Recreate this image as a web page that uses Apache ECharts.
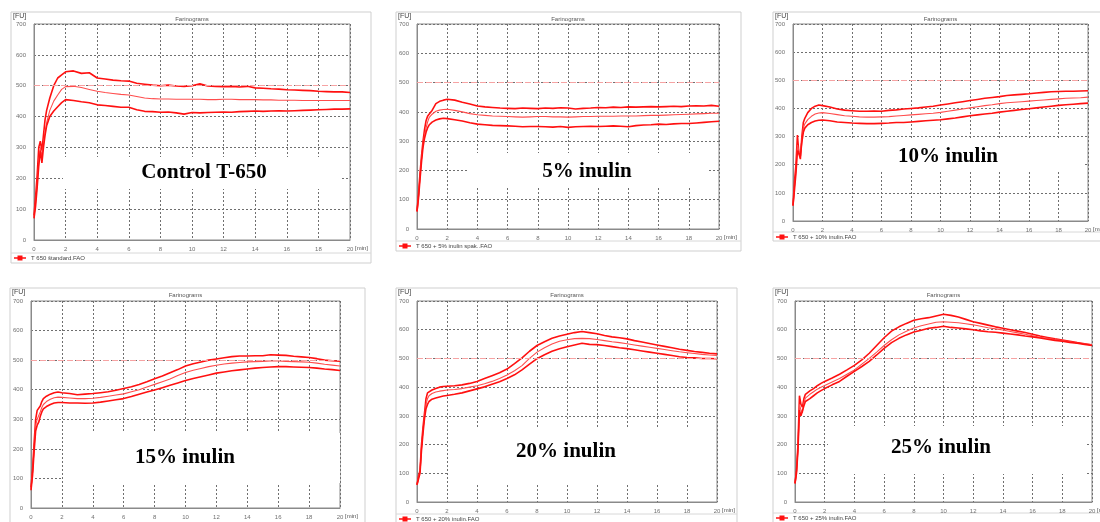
<!DOCTYPE html>
<html>
<head>
<meta charset="utf-8">
<style>
  html, body { margin: 0; padding: 0; background: #fff; }
  #chart { width: 1100px; height: 522px; }
</style>
<script src="https://cdn.jsdelivr.net/npm/echarts@6/dist/echarts.min.js"></script>
</head>
<body>
<div id="chart"></div>
<script>
// time axis shared by all curves [min]
const T = [0, 0.1, 0.2, 0.3, 0.4, 0.5, 0.6, 0.7, 0.8, 1, 1.25, 1.5, 1.75, 2, 2.5, 3, 3.5, 4, 4.5, 5,
  5.5, 6, 6.5, 7, 7.5, 8, 8.5, 9, 9.5, 10, 10.5, 11, 11.5, 12, 12.5, 13, 13.5, 14, 14.5, 15,
  15.5, 16, 16.5, 17, 17.5, 18, 18.5, 19, 19.5, 20]

// Control T-650 [FU]
const ctrlUp = [80, 140, 210, 300, 320, 290, 340, 390, 420, 460, 500, 525, 535, 545, 548, 540, 542, 525, 522, 518,
  516, 515, 508, 505, 502, 500, 502, 499, 498, 500, 506, 499, 498, 497, 498, 496, 498, 493, 492, 490,
  489, 487, 486, 485, 484, 482, 481, 480, 480, 478]
const ctrlMid = [75, 120, 180, 250, 300, 270, 310, 350, 380, 420, 450, 470, 488, 497, 498, 494, 488, 482, 478, 475,
  472, 470, 465, 460, 458, 457, 457, 456, 456, 456, 456, 455, 455, 456, 456, 455, 455, 455, 454, 454,
  453, 453, 453, 452, 452, 452, 452, 452, 452, 452]
const ctrlLow = [70, 110, 170, 240, 290, 250, 300, 340, 370, 400, 418, 432, 445, 455, 452, 448, 445, 438, 436, 433,
  430, 430, 422, 417, 416, 414, 415, 412, 408, 413, 412, 413, 414, 415, 414, 416, 417, 418, 417, 418,
  419, 418, 419, 420, 421, 422, 423, 424, 424, 425]

// 5% inulin
const in5Up = [60, 120, 190, 250, 300, 340, 370, 385, 392, 405, 428, 436, 440, 443, 440, 433, 427, 420, 417, 415,
  413, 412, 411, 413, 412, 411, 413, 412, 414, 413, 410, 412, 413, 415, 414, 416, 415, 417, 416, 417,
  418, 417, 418, 419, 418, 420, 421, 420, 422, 419]
const in5Mid = [60, 110, 180, 240, 290, 320, 345, 365, 380, 392, 402, 406, 408, 409, 405, 400, 394, 390, 388, 386,
  385, 384, 383, 382, 383, 384, 384, 383, 383, 382, 383, 384, 384, 385, 385, 385, 386, 386, 386, 387,
  388, 388, 389, 390, 391, 392, 393, 394, 395, 395]
const in5Low = [60, 105, 170, 230, 280, 310, 330, 345, 355, 365, 372, 376, 378, 377, 373, 369, 363, 358, 356, 354,
  353, 352, 351, 349, 350, 350, 349, 348, 350, 347, 349, 350, 351, 350, 351, 352, 351, 349, 353, 355,
  356, 358, 357, 359, 360, 360, 362, 364, 366, 368]

// 10% inulin
const in10Up = [55, 140, 200, 305, 240, 220, 300, 350, 365, 385, 400, 408, 412, 410, 405, 398, 394, 392, 390, 390,
  391, 390, 393, 395, 398, 400, 402, 405, 408, 412, 416, 420, 424, 428, 432, 436, 439, 442, 446, 448,
  450, 452, 455, 457, 459, 460, 461, 461, 462, 463]
const in10Mid = [55, 120, 180, 270, 250, 240, 290, 330, 345, 360, 372, 380, 384, 385, 382, 378, 374, 372, 370, 369,
  369, 370, 371, 373, 375, 377, 379, 381, 383, 386, 390, 394, 398, 402, 406, 410, 413, 417, 420, 422,
  424, 426, 428, 430, 432, 434, 436, 437, 438, 440]
const in10Low = [55, 110, 170, 250, 240, 230, 280, 315, 330, 342, 350, 355, 358, 359, 356, 352, 350, 348, 347, 346,
  346, 347, 348, 350, 350, 352, 354, 356, 358, 360, 363, 366, 370, 374, 377, 380, 383, 387, 390, 393,
  396, 399, 402, 405, 408, 411, 413, 415, 417, 419]

// 15% inulin
const in15Up = [70, 130, 220, 300, 330, 325, 345, 360, 370, 378, 385, 390, 392, 390, 387, 383, 385, 387, 390, 393,
  398, 404, 410, 418, 427, 437, 446, 457, 468, 480, 488, 494, 500, 504, 508, 512, 514, 514, 515, 515,
  518, 517, 516, 513, 511, 509, 505, 500, 498, 496]
const in15Mid = [65, 120, 200, 280, 300, 305, 325, 340, 350, 360, 368, 373, 375, 374, 372, 370, 370, 371, 374, 378,
  382, 386, 393, 400, 409, 418, 427, 436, 448, 458, 466, 472, 478, 483, 487, 490, 492, 494, 495, 496,
  497, 497, 496, 495, 494, 493, 490, 486, 483, 480]
const in15Low = [60, 110, 190, 260, 280, 290, 310, 325, 335, 343, 350, 355, 357, 357, 355, 355, 354, 355, 358, 362,
  366, 370, 377, 385, 392, 399, 407, 415, 423, 431, 438, 444, 450, 456, 460, 464, 467, 470, 473, 475,
  477, 478, 478, 477, 476, 475, 473, 470, 468, 465]

// 20% inulin
const in20Up = [60, 90, 110, 200, 260, 310, 360, 380, 385, 390, 395, 400, 402, 403, 405, 408, 413, 420, 430, 440,
  450, 463, 482, 502, 525, 545, 558, 570, 578, 584, 590, 594, 590, 586, 580, 575, 572, 568, 562, 557,
  552, 547, 542, 537, 532, 528, 524, 521, 518, 516]
const in20Mid = [60, 85, 105, 190, 250, 300, 340, 360, 370, 378, 383, 386, 388, 390, 392, 395, 400, 405, 412, 420,
  430, 442, 457, 475, 500, 522, 537, 550, 560, 565, 569, 570, 569, 566, 562, 558, 555, 551, 547, 543,
  539, 535, 531, 527, 523, 520, 517, 514, 512, 510]
const in20Low = [60, 80, 100, 180, 240, 290, 325, 340, 350, 358, 362, 366, 369, 371, 375, 380, 387, 394, 401, 410,
  419, 430, 443, 460, 480, 499, 513, 525, 534, 541, 547, 553, 549, 548, 545, 541, 537, 534, 530, 526,
  522, 518, 514, 510, 506, 503, 502, 500, 500, 499]

// 25% inulin
const in25Up = [65, 110, 200, 370, 340, 330, 360, 375, 380, 387, 395, 405, 413, 420, 432, 445, 460, 476, 495, 518,
  545, 572, 595, 610, 622, 633, 638, 642, 648, 654, 650, 644, 636, 628, 622, 616, 610, 605, 600, 595,
  590, 584, 578, 573, 568, 564, 560, 555, 551, 547]
const in25Mid = [65, 105, 190, 340, 320, 310, 345, 362, 368, 375, 384, 393, 400, 406, 418, 430, 445, 460, 480, 500,
  522, 545, 565, 582, 595, 606, 614, 620, 626, 628, 626, 624, 621, 617, 612, 607, 603, 599, 594, 589,
  584, 579, 574, 570, 566, 562, 558, 554, 551, 548]
const in25Low = [65, 100, 180, 320, 300, 300, 335, 350, 355, 360, 370, 380, 388, 395, 408, 420, 438, 455, 472, 490,
  512, 535, 555, 570, 582, 592, 598, 605, 608, 612, 608, 606, 603, 600, 596, 593, 591, 588, 585, 582,
  578, 575, 571, 567, 563, 560, 556, 553, 549, 545]

const curves = [
  [ctrlUp, ctrlMid, ctrlLow],
  [in5Up, in5Mid, in5Low],
  [in10Up, in10Mid, in10Low],
  [in15Up, in15Mid, in15Low],
  [in20Up, in20Mid, in20Low],
  [in25Up, in25Mid, in25Low],
]
const bigLabels = ['Control T-650', '5% inulin', '10% inulin', '15% inulin', '20% inulin', '25% inulin']
const legendTexts = ['T 650 štandard.FAO', 'T 650 + 5% inulin spak..FAO', 'T 650 + 10% inulin.FAO',
  'T 650 + 15% inulin.FAO', 'T 650 + 20% inulin.FAO', 'T 650 + 25% inulin.FAO']
const fuLimit = 500

// layout (pixels)
const grids = [
  { left: 34, top: 24, width: 316, height: 216 },
  { left: 417, top: 24, width: 302, height: 205 },
  { left: 793, top: 24, width: 295, height: 197 },
  { left: 31, top: 301, width: 309, height: 207 },
  { left: 417, top: 301, width: 300, height: 201 },
  { left: 795, top: 301, width: 297, height: 201 },
]
const frames = [
  { x: 11, y: 12, w: 360, h: 251, sep: 253 },
  { x: 396, y: 12, w: 345, h: 239, sep: 241 },
  { x: 773, y: 12, w: 340, h: 229, sep: 232 },
  { x: 10, y: 288, w: 355, h: 240, sep: 530 },
  { x: 396, y: 288, w: 341, h: 240, sep: 514 },
  { x: 773, y: 288, w: 340, h: 240, sep: 513 },
]
const labelBoxes = [
  { x: 63, y: 157, w: 277, h: 32, cx: 204, cy: 173 },
  { x: 467, y: 153, w: 241, h: 35, cx: 587, cy: 172 },
  { x: 823, y: 138, w: 260, h: 32, cx: 948, cy: 157 },
  { x: 63, y: 433, w: 277, h: 50, cx: 185, cy: 458 },
  { x: 448, y: 429, w: 267, h: 54, cx: 566, cy: 452 },
  { x: 828, y: 426, w: 258, h: 48, cx: 941, cy: 448 },
]

const RED = '#ff1010'
const RED_MID = '#ff4d4d'
const GRID_LINE = '#6f6f6f'
const AXIS_TEXT = '#707070'
const SMALL_FONT = 'Arial, "Liberation Sans", sans-serif'

const chart = echarts.init(document.getElementById('chart'), null, { renderer: 'canvas' })

const grid = [], xAxis = [], yAxis = [], series = [], graphic = []

grids.forEach((g, i) => {
  grid.push({ ...g, show: true, borderColor: '#8a8a8a', borderWidth: 1, backgroundColor: '#fff', containLabel: false })
  xAxis.push({
    type: 'value', gridIndex: i, min: 0, max: 20, interval: 2,
    axisLine: { show: true, lineStyle: { color: '#8a8a8a' } },
    axisTick: { show: false },
    axisLabel: { fontSize: 6, color: AXIS_TEXT, margin: 6, fontFamily: SMALL_FONT },
    splitLine: { show: true, lineStyle: { color: GRID_LINE, type: [2, 2], width: 1 } },
  })
  yAxis.push({
    type: 'value', gridIndex: i, min: 0, max: 700, interval: 100,
    axisLine: { show: true, lineStyle: { color: '#8a8a8a' } },
    axisTick: { show: false },
    axisLabel: { fontSize: 6, color: AXIS_TEXT, margin: 8, fontFamily: SMALL_FONT },
    splitLine: { show: true, lineStyle: { color: GRID_LINE, type: [2, 2], width: 1 } },
  })

  const [up, mid, low] = curves[i]
  const toPairs = arr => T.map((t, k) => [t, arr[k]])
  series.push({
    type: 'line', xAxisIndex: i, yAxisIndex: i, data: toPairs(up), showSymbol: false, z: 3,
    lineStyle: { color: RED, width: 1.6 }, itemStyle: { color: RED },
    markLine: {
      silent: true, symbol: 'none', label: { show: false },
      lineStyle: { color: '#f7a3a3', type: [6, 3], width: 1.2 },
      data: [{ yAxis: fuLimit }],
    },
  })
  series.push({
    type: 'line', xAxisIndex: i, yAxisIndex: i, data: toPairs(mid), showSymbol: false, z: 3,
    lineStyle: { color: RED_MID, width: 1.1 }, itemStyle: { color: RED_MID },
  })
  series.push({
    type: 'line', xAxisIndex: i, yAxisIndex: i, data: toPairs(low), showSymbol: false, z: 3,
    lineStyle: { color: RED, width: 1.6 }, itemStyle: { color: RED },
  })

  // panel frame, header texts, legend
  const f = frames[i]
  graphic.push({
    type: 'rect', z: -1, silent: true,
    shape: { x: f.x, y: f.y, width: f.w, height: f.h },
    style: { fill: 'none', stroke: '#cfcfcf', lineWidth: 1 },
  })
  graphic.push({
    type: 'line', z: -1, silent: true,
    shape: { x1: f.x, y1: f.sep, x2: f.x + f.w, y2: f.sep },
    style: { stroke: '#d8d8d8', lineWidth: 1 },
  })
  graphic.push({
    type: 'text', silent: true,
    style: { text: 'Farinograms', x: g.left + g.width / 2, y: f.y + 4, font: '6px ' + SMALL_FONT, fill: '#555', align: 'center', verticalAlign: 'top' },
  })
  graphic.push({
    type: 'text', silent: true,
    style: { text: '[FU]', x: f.x + 2, y: f.y + 1, font: '7px ' + SMALL_FONT, fill: '#444', align: 'left', verticalAlign: 'top' },
  })
  graphic.push({
    type: 'text', silent: true,
    style: { text: '[min]', x: g.left + g.width + 5, y: g.top + g.height + 8, font: '6px ' + SMALL_FONT, fill: '#555', align: 'left', verticalAlign: 'middle' },
  })
  const ly = f.sep + 5
  graphic.push({
    type: 'line', silent: true,
    shape: { x1: f.x + 3, y1: ly, x2: f.x + 15, y2: ly },
    style: { stroke: RED, lineWidth: 1.5 },
  })
  graphic.push({
    type: 'rect', silent: true,
    shape: { x: f.x + 6.5, y: ly - 2.5, width: 5, height: 5 },
    style: { fill: RED },
  })
  graphic.push({
    type: 'text', silent: true,
    style: { text: legendTexts[i], x: f.x + 20, y: ly, font: '6px ' + SMALL_FONT, fill: '#444', align: 'left', verticalAlign: 'middle' },
  })

  // big sample label on white box
  const b = labelBoxes[i]
  graphic.push({
    type: 'rect', z: 1, silent: true,
    shape: { x: b.x, y: b.y, width: b.w, height: b.h },
    style: { fill: '#fff' },
  })
  graphic.push({
    type: 'text', z: 4, silent: true,
    style: { text: bigLabels[i], x: b.cx, y: b.cy, font: 'bold 21px "Liberation Serif", "Times New Roman", serif', fill: '#000', align: 'center', verticalAlign: 'middle' },
  })
})

chart.setOption({
  backgroundColor: '#fff',
  animation: false,
  grid, xAxis, yAxis, series, graphic,
})
</script>
</body>
</html>
